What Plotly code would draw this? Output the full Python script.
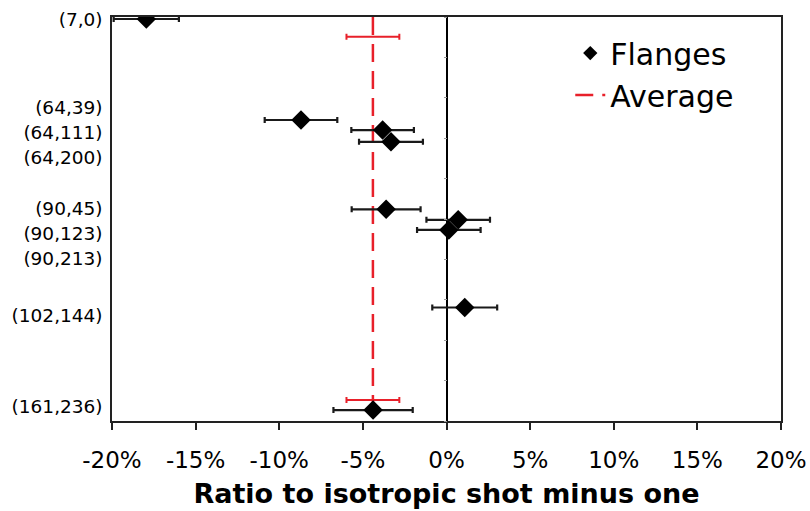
import plotly.graph_objects as go

# Category labels and their vertical positions (axis units, 0 = top, 10 = bottom)
labels = ["(7,0)", "(64,39)", "(64,111)", "(64,200)", "(90,45)", "(90,123)", "(90,213)", "(102,144)", "(161,236)"]
label_pos = [0.05, 2.23, 2.85, 3.47, 4.73, 5.35, 5.97, 7.40, 9.65]

# Flange points: ratio to isotropic shot minus one (%), error (±%), vertical position
flange_x = [-17.95, -8.70, -3.82, -3.32, -3.61, 0.70, 0.14, 1.09, -4.39]
flange_err = [1.95, 2.17, 1.87, 1.91, 2.06, 1.90, 1.90, 1.94, 2.37]
flange_y = [0.05, 2.55, 2.80, 3.09, 4.76, 5.02, 5.27, 7.19, 9.73]

# Average
avg_x = -4.40
avg_err = 1.58
avg_bar_y = [0.49, 9.48]
avg_line_y = [0, 10]

x_ticks = [-20, -15, -10, -5, 0, 5, 10, 15, 20]
x_ticktext = ["-20%", "-15%", "-10%", "-5%", "0%", "5%", "10%", "15%", "20%"]

RED = "#e8202a"

fig = go.Figure()

fig.add_trace(go.Scatter(
    x=[avg_x, avg_x], y=avg_line_y, mode="lines", name="Average", legendrank=2,
    line=dict(color=RED, width=2.5, dash="18px,9px"),
))
fig.add_trace(go.Scatter(
    x=[avg_x] * len(avg_bar_y), y=avg_bar_y, mode="markers", showlegend=False,
    marker=dict(size=1, color="rgba(0,0,0,0)"),
    error_x=dict(type="data", array=[avg_err] * len(avg_bar_y), color=RED, thickness=2, width=3),
    hoverinfo="skip",
))
fig.add_trace(go.Scatter(
    x=flange_x, y=flange_y, mode="markers", name="Flanges", showlegend=False,
    marker=dict(symbol="diamond", size=15, color="black"),
    error_x=dict(type="data", array=flange_err, color="#1a1a1a", thickness=2.2, width=3),
))
# legend entry for Flanges with a smaller diamond, as in the reference
fig.add_trace(go.Scatter(
    x=[None], y=[None], mode="markers", name="Flanges", legendrank=1,
    marker=dict(symbol="diamond", size=11, color="black"),
))

fig.update_layout(
    width=810, height=511,
    margin=dict(l=112, r=29, t=17, b=90, autoexpand=False),
    plot_bgcolor="white", paper_bgcolor="white",
    font=dict(family="DejaVu Sans", color="black"),
    showlegend=True,
    legend=dict(x=0.685, y=0.975, xanchor="left", yanchor="top",
                font=dict(size=30, family="DejaVu Sans"), bgcolor="rgba(0,0,0,0)",
                itemwidth=30, tracegroupgap=4, traceorder="normal"),
    xaxis=dict(range=[-20, 20], tickvals=x_ticks, ticktext=x_ticktext, automargin=False,
               tickfont=dict(size=23), ticks="outside", ticklen=7, tickwidth=1.5, tickcolor="#222",
               ticklabelstandoff=11,
               showline=True, linecolor="#222", linewidth=1.5, mirror=True,
               showgrid=False, zeroline=True, zerolinecolor="black", zerolinewidth=1.5,
               title=dict(text="<b>Ratio to isotropic shot minus one</b>", font=dict(size=27), standoff=12)),
    yaxis=dict(range=[10, 0], tickvals=label_pos, ticktext=labels, tickfont=dict(size=18.5),
               automargin=False,
               ticks="", showline=True, linecolor="#222", linewidth=1.5, mirror=True,
               showgrid=False, zeroline=False, ticklabelstandoff=4),
    yaxis2=dict(range=[10, 0], overlaying="y", anchor="free", position=0.5, side="left",
                tickvals=list(range(0, 11)), showticklabels=False, ticks="outside", automargin=False,
                ticklen=3, tickcolor="#999", showline=False, showgrid=False, zeroline=False),
)
# dummy invisible trace on y2 so the axis renders
fig.add_trace(go.Scatter(x=[None], y=[None], yaxis="y2", showlegend=False, hoverinfo="skip"))

fig.write_html("out.html", config={"displayModeBar": False},
               post_script="document.body.style.margin='0';document.body.style.overflow='hidden';")
